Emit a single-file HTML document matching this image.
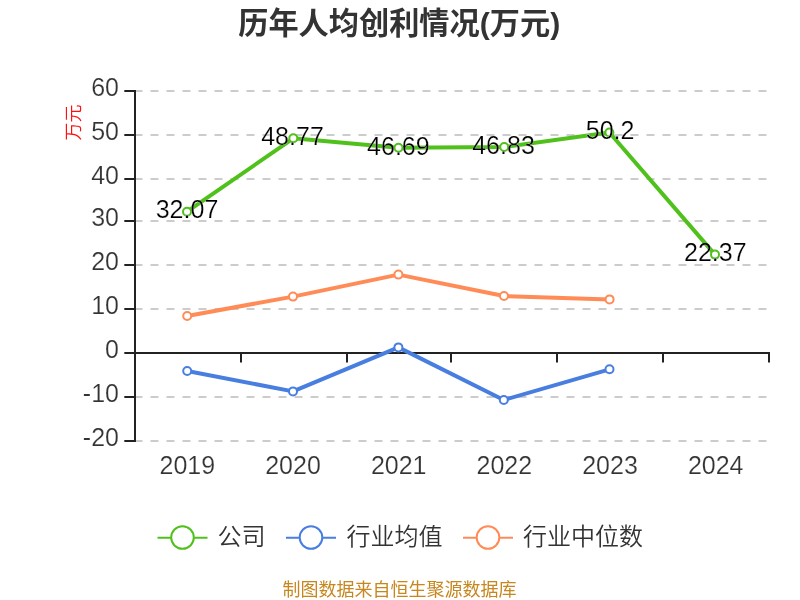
<!DOCTYPE html>
<html lang="zh-CN">
<head>
<meta charset="utf-8">
<title>历年人均创利情况(万元)</title>
<style>
html,body{margin:0;padding:0;background:#fff;}
body{width:800px;height:600px;overflow:hidden;}
svg{display:block;will-change:transform;}
.num{font-family:'Liberation Sans', 'Noto Sans CJK SC', sans-serif;font-size:25px;}
.cjk{font-family:'Liberation Sans', 'Noto Sans CJK SC', sans-serif;}
.cjkl{font-family:'Noto Sans CJK SC DemiLight','Liberation Sans','Noto Sans CJK SC',sans-serif;}
</style>
</head>
<body>
<svg width="800" height="600" viewBox="0 0 800 600">
<rect x="0" y="0" width="800" height="600" fill="#ffffff"/>
<text class="cjk" x="399.2" y="33.5" text-anchor="middle" font-size="30.2" font-weight="bold" fill="#333">历年人均创利情况(万元)</text>
<g stroke="#cccccc" stroke-width="2" stroke-dasharray="8 8" fill="none">
<line x1="134.5" y1="91" x2="769" y2="91"/>
<line x1="134.5" y1="135" x2="769" y2="135"/>
<line x1="134.5" y1="179" x2="769" y2="179"/>
<line x1="134.5" y1="221" x2="769" y2="221"/>
<line x1="134.5" y1="265" x2="769" y2="265"/>
<line x1="134.5" y1="309" x2="769" y2="309"/>
<line x1="134.5" y1="397" x2="769" y2="397"/>
<line x1="134.5" y1="441" x2="769" y2="441"/>
</g>
<g stroke="#222" stroke-width="2" fill="none">
<line x1="135" y1="90" x2="135" y2="442"/>
<line x1="134" y1="353" x2="770" y2="353"/>
<line x1="124.3" y1="91" x2="135" y2="91"/>
<line x1="124.3" y1="135" x2="135" y2="135"/>
<line x1="124.3" y1="179" x2="135" y2="179"/>
<line x1="124.3" y1="221" x2="135" y2="221"/>
<line x1="124.3" y1="265" x2="135" y2="265"/>
<line x1="124.3" y1="309" x2="135" y2="309"/>
<line x1="124.3" y1="353" x2="135" y2="353"/>
<line x1="124.3" y1="397" x2="135" y2="397"/>
<line x1="124.3" y1="441" x2="135" y2="441"/>
<line x1="135" y1="353" x2="135" y2="362.6"/>
<line x1="241" y1="353" x2="241" y2="362.6"/>
<line x1="347" y1="353" x2="347" y2="362.6"/>
<line x1="451" y1="353" x2="451" y2="362.6"/>
<line x1="557" y1="353" x2="557" y2="362.6"/>
<line x1="663" y1="353" x2="663" y2="362.6"/>
<line x1="769" y1="353" x2="769" y2="362.6"/>
</g>
<g class="num" fill="#333" text-anchor="end" stroke="#fff" stroke-width="0.2">
<text x="119" y="96">60</text>
<text x="119" y="140">50</text>
<text x="119" y="184">40</text>
<text x="119" y="226">30</text>
<text x="119" y="270">20</text>
<text x="119" y="314">10</text>
<text x="119" y="358">0</text>
<text x="119" y="402">-10</text>
<text x="119" y="446">-20</text>
</g>
<g class="num" fill="#333" text-anchor="middle" stroke="#fff" stroke-width="0.2">
<text x="187.3" y="473.8">2019</text>
<text x="293.0" y="473.8">2020</text>
<text x="398.7" y="473.8">2021</text>
<text x="504.3" y="473.8">2022</text>
<text x="610.0" y="473.8">2023</text>
<text x="715.7" y="473.8">2024</text>
</g>
<text transform="translate(79.6,122.5) rotate(-90)" text-anchor="middle" font-size="18" font-family="'Noto Sans CJK SC DemiLight', 'Liberation Sans', 'Noto Sans CJK SC', sans-serif" fill="#ff1010">万元</text>
<polyline points="187.0,211.7 293.3,138.3 398.5,147.7 504.2,147.0 609.4,132.5 715.0,254.6" fill="none" stroke="#50c11b" stroke-width="4" stroke-linejoin="bevel" stroke-linecap="butt"/>
<g fill="#fff" stroke="#50c11b" stroke-width="2">
<circle cx="187.0" cy="211.7" r="4"/>
<circle cx="293.3" cy="138.3" r="4"/>
<circle cx="398.5" cy="147.7" r="4"/>
<circle cx="504.2" cy="147.0" r="4"/>
<circle cx="609.4" cy="132.5" r="4"/>
<circle cx="715.0" cy="254.6" r="4"/>
</g>
<polyline points="187.2,371.0 293.0,391.4 398.4,347.4 503.8,400.0 609.5,369.3" fill="none" stroke="#497ee1" stroke-width="4" stroke-linejoin="bevel" stroke-linecap="butt"/>
<g fill="#fff" stroke="#497ee1" stroke-width="2">
<circle cx="187.2" cy="371.0" r="4"/>
<circle cx="293.0" cy="391.4" r="4"/>
<circle cx="398.4" cy="347.4" r="4"/>
<circle cx="503.8" cy="400.0" r="4"/>
<circle cx="609.5" cy="369.3" r="4"/>
</g>
<polyline points="187.2,316.0 293.0,296.6 398.4,274.6 504.0,296.0 609.6,299.4" fill="none" stroke="#ff8b57" stroke-width="4" stroke-linejoin="bevel" stroke-linecap="butt"/>
<g fill="#fff" stroke="#ff8b57" stroke-width="2">
<circle cx="187.2" cy="316.0" r="4"/>
<circle cx="293.0" cy="296.6" r="4"/>
<circle cx="398.4" cy="274.6" r="4"/>
<circle cx="504.0" cy="296.0" r="4"/>
<circle cx="609.6" cy="299.4" r="4"/>
</g>
<g class="num" fill="#000" text-anchor="middle" stroke="#fff" stroke-width="0.2">
<text x="187.0" y="217.9">32.07</text>
<text x="292.5" y="144.5">48.77</text>
<text x="398.4" y="154.6">46.69</text>
<text x="503.5" y="154.0">46.83</text>
<text x="610.1" y="139.0">50.2</text>
<text x="715.3" y="261.0">22.37</text>
</g>
<g stroke="#50c11b" stroke-width="2" fill="#fff">
<line x1="157.5" y1="537.7" x2="207.5" y2="537.7"/>
<circle cx="182.5" cy="537.5" r="11.3"/>
</g>
<text class="cjkl" x="217.5" y="544.6" font-size="24" fill="#333">公司</text>
<g stroke="#497ee1" stroke-width="2" fill="#fff">
<line x1="286" y1="537.7" x2="336" y2="537.7"/>
<circle cx="311" cy="537.5" r="11.3"/>
</g>
<text class="cjkl" x="346.5" y="544.6" font-size="24" fill="#333">行业均值</text>
<g stroke="#ff8b57" stroke-width="2" fill="#fff">
<line x1="463" y1="537.7" x2="513" y2="537.7"/>
<circle cx="488" cy="537.5" r="11.3"/>
</g>
<text class="cjkl" x="523" y="544.6" font-size="24" fill="#333">行业中位数</text>
<text class="cjk" x="399.5" y="595.5" text-anchor="middle" font-size="18" fill="#c6871f">制图数据来自恒生聚源数据库</text>
</svg>
</body>
</html>
